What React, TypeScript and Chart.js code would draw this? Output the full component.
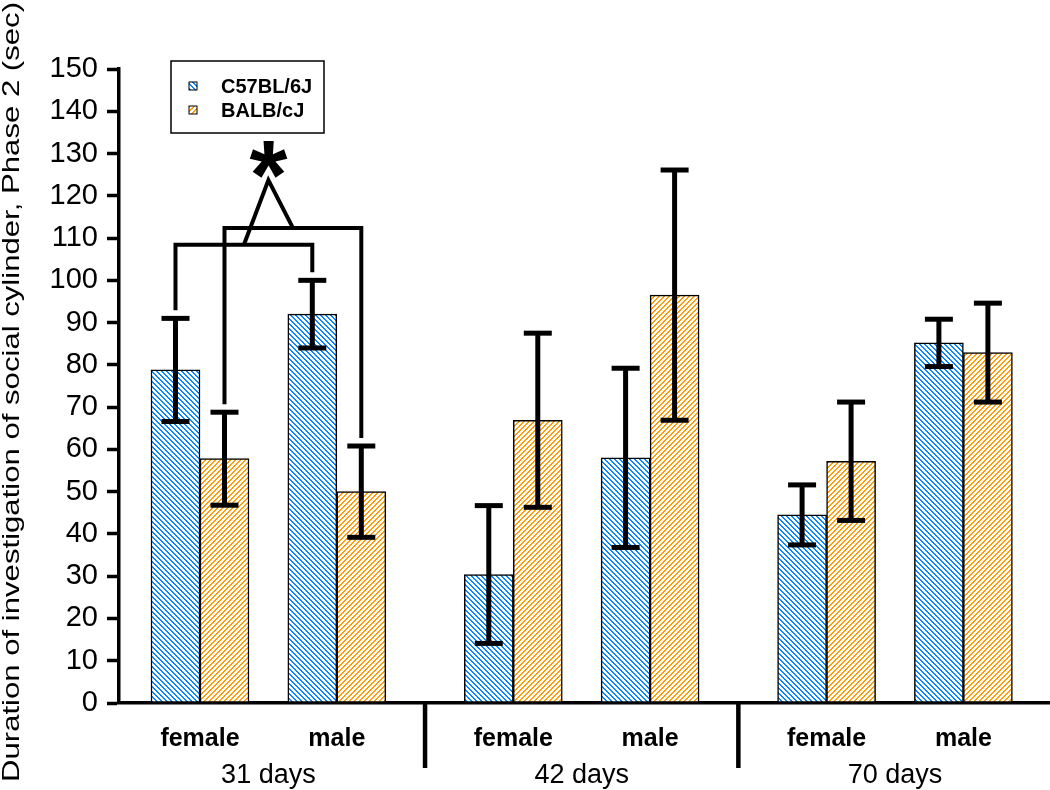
import React, { useEffect, useRef } from 'react';
import { Chart, registerables } from 'chart.js';

Chart.register(...registerables);

// ---------------- data ----------------
const ageGroups = ['31 days', '42 days', '70 days'];
const sexLabels = ['female', 'male', 'female', 'male', 'female', 'male'];
const seriesNames = ['C57BL/6J', 'BALB/cJ'];
const c57Means = [78.8, 92, 30.4, 58, 44.5, 85.2];
const c57Errors = [12.2, 8, 16.3, 21.2, 7.1, 5.6];
const balbMeans = [57.8, 50, 66.9, 96.5, 57.2, 82.9];
const balbErrors = [11, 10.8, 20.6, 29.6, 14, 11.7];
const yMin = 0;
const yMax = 150;
const yStep = 10;
const yTitle = 'Duration of investigation of social cylinder, Phase 2 (sec)';
// significance annotation (value units): bracket levels, apex, star
const bracketLevels = [108.4, 112.4];
const apexLevel = 123.7;
const starLevel = 128.5;
const starText = '*';

// ---------------- layout helpers ----------------
const FONT = 'Arial, "Liberation Sans", Helvetica, sans-serif';
const GROUP_STEP = 2.29;
const slotX = sexLabels.map((_, i) => Math.floor(i / 2) * GROUP_STEP + (i % 2));
const groupCenters = ageGroups.map((_, g) => g * GROUP_STEP + 0.5);
const separators = [0, 1].map((g) => g * GROUP_STEP + 1 + (GROUP_STEP - 1) / 2);
const X_MIN = -0.592;
const X_MAX = 6.213;

function makeHatch(color: string, back: boolean) {
  const n = 5;
  const c = document.createElement('canvas');
  c.width = n;
  c.height = n;
  const g = c.getContext('2d')!;
  g.fillStyle = '#ffffff';
  g.fillRect(0, 0, n, n);
  g.fillStyle = color;
  for (let i = 0; i < n; i++) {
    const x = back ? i : n - 1 - i;
    g.fillRect(x, i, 1, 1);
    g.fillRect((x + 1) % n, i, 1, 1);
  }
  return g.createPattern(c, 'repeat')!;
}

function line(ctx: CanvasRenderingContext2D, pts: number[][]) {
  ctx.beginPath();
  ctx.moveTo(pts[0][0], pts[0][1]);
  for (let i = 1; i < pts.length; i++) ctx.lineTo(pts[i][0], pts[i][1]);
  ctx.stroke();
}

const overlayPlugin = {
  id: 'overlay',
  afterDatasetsDraw(chart: any) {
    const ctx: CanvasRenderingContext2D = chart.ctx;
    const ys = chart.scales.y;
    const xs = chart.scales.x;
    const area = chart.chartArea;
    const means = [c57Means, balbMeans];
    const errs = [c57Errors, balbErrors];
    ctx.save();
    ctx.strokeStyle = '#000';
    ctx.lineCap = 'butt';
    // error bars
    const capTop: number[][] = [[], []];
    ctx.lineWidth = 5;
    for (let d = 0; d < 2; d++) {
      const meta = chart.getDatasetMeta(d);
      meta.data.forEach((bar: any, i: number) => {
        const cx = bar.x;
        const top = ys.getPixelForValue(means[d][i] + errs[d][i]);
        const bot = ys.getPixelForValue(means[d][i] - errs[d][i]);
        capTop[d][i] = top;
        line(ctx, [[cx, top], [cx, bot]]);
        line(ctx, [[cx - 14, top], [cx + 14, top]]);
        line(ctx, [[cx - 14, bot], [cx + 14, bot]]);
      });
    }
    // significance brackets (strain comparison female vs male at 31 days)
    ctx.lineWidth = 4;
    ctx.lineJoin = 'miter';
    const mids: number[] = [];
    const levels: number[] = [];
    for (let d = 0; d < 2; d++) {
      const meta = chart.getDatasetMeta(d);
      const xa = meta.data[0].x;
      const xb = meta.data[1].x;
      const yl = ys.getPixelForValue(bracketLevels[d]);
      line(ctx, [[xa, capTop[d][0] - 8], [xa, yl], [xb, yl], [xb, capTop[d][1] - 8]]);
      mids.push((xa + xb) / 2);
      levels.push(yl);
    }
    const ax = (mids[0] + mids[1]) / 2;
    const ay = ys.getPixelForValue(apexLevel);
    line(ctx, [[mids[0], levels[0]], [ax, ay], [mids[1], levels[1]]]);
    // star
    ctx.fillStyle = '#000';
    ctx.font = `bold 100px ${FONT}`;
    const m = ctx.measureText(starText);
    const bw = m.actualBoundingBoxLeft + m.actualBoundingBoxRight;
    const fs = 100 * (38 / bw);
    ctx.font = `bold ${fs}px ${FONT}`;
    const m2 = ctx.measureText(starText);
    ctx.textAlign = 'left';
    ctx.textBaseline = 'alphabetic';
    const sy = ys.getPixelForValue(starLevel);
    const bx = ax - (m2.actualBoundingBoxRight - m2.actualBoundingBoxLeft) / 2;
    const by = sy + (m2.actualBoundingBoxAscent - m2.actualBoundingBoxDescent) / 2;
    ctx.fillText(starText, bx, by);
    // group separators
    ctx.lineWidth = 4.5;
    separators.forEach((s) => {
      const px = xs.getPixelForValue(s);
      line(ctx, [[px, area.bottom], [px, area.bottom + 65]]);
    });
    ctx.restore();
  },
  afterDraw(chart: any) {
    const ctx: CanvasRenderingContext2D = chart.ctx;
    const area = chart.chartArea;
    ctx.save();
    // y title (stretched along its length)
    ctx.fillStyle = '#000';
    ctx.font = `24px ${FONT}`;
    const w = ctx.measureText(yTitle).width;
    const sx = 780 / w;
    ctx.translate(18.5, 392);
    ctx.rotate(-Math.PI / 2);
    ctx.scale(sx, 1);
    ctx.textAlign = 'center';
    ctx.textBaseline = 'alphabetic';
    ctx.fillText(yTitle, 0, 0);
    ctx.restore();

    // legend
    ctx.save();
    const lx = area.left + 52;
    const ly = 61;
    ctx.fillStyle = '#fff';
    ctx.fillRect(lx, ly, 153, 72);
    ctx.strokeStyle = '#000';
    ctx.lineWidth = 1.5;
    ctx.strokeRect(lx, ly, 153, 72);
    ctx.font = `bold 20px ${FONT}`;
    ctx.textBaseline = 'middle';
    ctx.textAlign = 'left';
    chart.data.datasets.forEach((ds: any, i: number) => {
      const cy = ly + 25 + i * 24;
      ctx.fillStyle = ds.backgroundColor;
      ctx.fillRect(lx + 18, cy - 4, 8, 8);
      ctx.lineWidth = 1;
      ctx.strokeStyle = '#000';
      ctx.strokeRect(lx + 18, cy - 4, 8, 8);
      ctx.fillStyle = '#000';
      ctx.fillText(ds.label, lx + 50, cy + 1);
    });
    ctx.restore();
  },
};

export default function App() {
  const ref = useRef<HTMLCanvasElement>(null);
  useEffect(() => {
    const canvas = ref.current!;
    const blue = makeHatch('#0a86ff', true);
    const orange = makeHatch('#ff9d0a', false);
    const chart = new Chart(canvas, {
      type: 'bar',
      data: {
        datasets: [
          {
            label: seriesNames[0],
            data: slotX.map((x, i) => ({ x, y: c57Means[i] })),
            backgroundColor: blue as any,
            borderColor: '#000',
            borderWidth: 1.5,
            borderSkipped: false,
            barThickness: 49,
          },
          {
            label: seriesNames[1],
            data: slotX.map((x, i) => ({ x, y: balbMeans[i] })),
            backgroundColor: orange as any,
            borderColor: '#000',
            borderWidth: 1.5,
            borderSkipped: false,
            barThickness: 49,
          },
        ],
      },
      options: {
        responsive: false,
        animation: false,
        events: [],
        layout: { padding: { top: 69, left: 0, right: 0, bottom: 0 } },
        plugins: {
          legend: { display: false },
          tooltip: { enabled: false },
          title: { display: false },
        },
        scales: {
          x: {
            type: 'linear',
            position: 'bottom',
            min: X_MIN,
            max: X_MAX,
            bounds: 'data',
            offset: false,
            weight: 0,
            afterBuildTicks: (s: any) => {
              s.ticks = slotX.map((v) => ({ value: v }));
            },
            afterFit: (s: any) => {
              s.height = 50;
            },
            ticks: {
              callback: (_v: any, i: number) => sexLabels[i],
              font: { family: FONT, size: 25, weight: 'bold' },
              color: '#000',
              padding: 21,
              maxRotation: 0,
              autoSkip: false,
            },
            grid: { display: false, drawTicks: false },
            border: { display: true, color: '#000', width: 3.5 },
          },
          x2: {
            type: 'linear',
            axis: 'x',
            position: 'bottom',
            min: X_MIN,
            max: X_MAX,
            bounds: 'data',
            offset: false,
            weight: 1,
            afterBuildTicks: (s: any) => {
              s.ticks = groupCenters.map((v) => ({ value: v }));
            },
            afterFit: (s: any) => {
              s.height = 37;
            },
            ticks: {
              callback: (_v: any, i: number) => ageGroups[i],
              font: { family: FONT, size: 27 },
              color: '#000',
              padding: 6,
              maxRotation: 0,
              autoSkip: false,
            },
            grid: { display: false, drawTicks: false },
            border: { display: false },
          },
          y: {
            type: 'linear',
            min: yMin,
            max: yMax,
            ticks: {
              stepSize: yStep,
              font: { family: FONT, size: 29 },
              color: '#000',
              padding: 9,
            },
            grid: {
              display: true,
              drawOnChartArea: false,
              drawTicks: true,
              tickLength: 12,
              tickWidth: 3.5,
              color: '#000',
            },
            border: { display: true, color: '#000', width: 3.5 },
            afterFit: (s: any) => {
              s.width = 119;
            },
          },
        },
      } as any,
      plugins: [overlayPlugin],
    });
    return () => chart.destroy();
  }, []);
  return (
    <div style={{ position: 'absolute', left: 0, top: 0, width: 1050, height: 790, background: '#fff' }}>
      <canvas ref={ref} width={1050} height={790} style={{ width: 1050, height: 790, display: 'block' }} />
    </div>
  );
}
